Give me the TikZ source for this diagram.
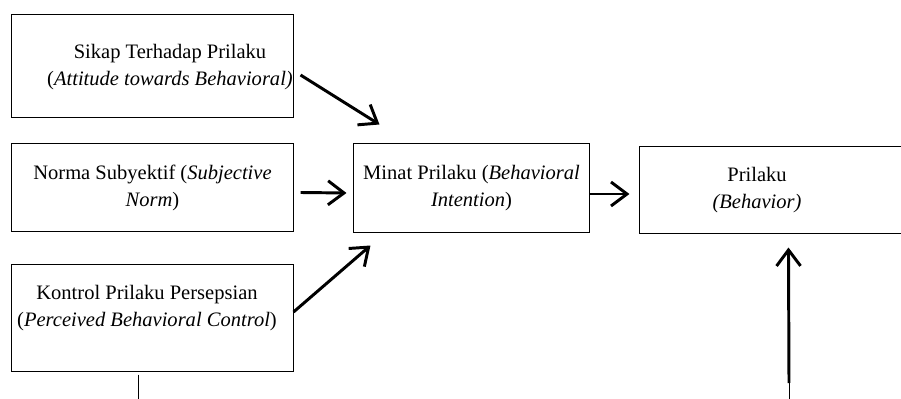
\documentclass[tikz,border=0pt]{standalone}
\usepackage{fontspec}
\setmainfont{Liberation Serif}
\usetikzlibrary{shapes}
\usetikzlibrary{calc}
\usetikzlibrary{arrows.meta}

\begin{document}
\begin{tikzpicture}[x=0.025cm, y=-0.025cm,
  kotak/.style={draw, rectangle, line width=0.7pt, align=center, inner sep=2pt,
    font=\fontsize{14.6}{19.2}\selectfont},
  teks/.style={align=center, font=\fontsize{14.6}{19.2}\selectfont},
  panah/.style={-{Straight Barb[length=4mm, width=6mm]}, line width=2.1pt}]
  \useasboundingbox (0,0) rectangle (901,399);

  \node[kotak, minimum width=7.025cm, minimum height=2.55cm] (sikap) at (152.5,66) {};
  \node[teks] (tekssikap) at (170,67) {Sikap Terhadap Prilaku\\(\textit{Attitude towards Behavioral)}};
  \node[kotak, minimum width=7.025cm, minimum height=2.175cm] (norma) at (152.5,187.5) {Norma Subyektif (\textit{Subjective}\\\textit{Norm})};
  \node[kotak, minimum width=7.025cm, minimum height=2.65cm] (kontrol) at (152.5,318) {};
  \node[teks] (tekskontrol) at (147,308) {Kontrol Prilaku Persepsian\\(\textit{Perceived Behavioral Control})};

  \node[kotak, minimum width=5.875cm, minimum height=2.2cm] (minat) at (471.5,188) {Minat Prilaku (\textit{Behavioral}\\\textit{Intention})};

  \node[kotak, minimum width=6.625cm, minimum height=2.15cm] (prilaku) at (772.5,190) {};
  \node[teks] (teksprilaku) at (757,190) {Prilaku\\\textit{(Behavior)}};

  \draw[panah] ($(sikap.east)+(7,9)$) -- ($(minat.north west)+(26,-19)$);
  \draw[panah] ($(norma.east)+(7,5)$) -- ($(minat.west)+(-7,5)$);
  \draw[panah] ($(kontrol.east)+(0,-6)$) -- ($(minat.south west)+(17,13)$);
  \draw[panah] ($(minat.east)+(0,6)$) -- ($(prilaku.west)+(-10,4)$);

  \coordinate (bawah) at (789,383);
  \draw[panah] (bawah) -- ($(prilaku.south west)+(149,14)$);
  \draw[line width=0.7pt] (bawah) -- ++(0,20);
  \draw[line width=0.7pt] ($(kontrol.south)+(-14,3)$) -- ++(0,30);
\end{tikzpicture}
\end{document}
